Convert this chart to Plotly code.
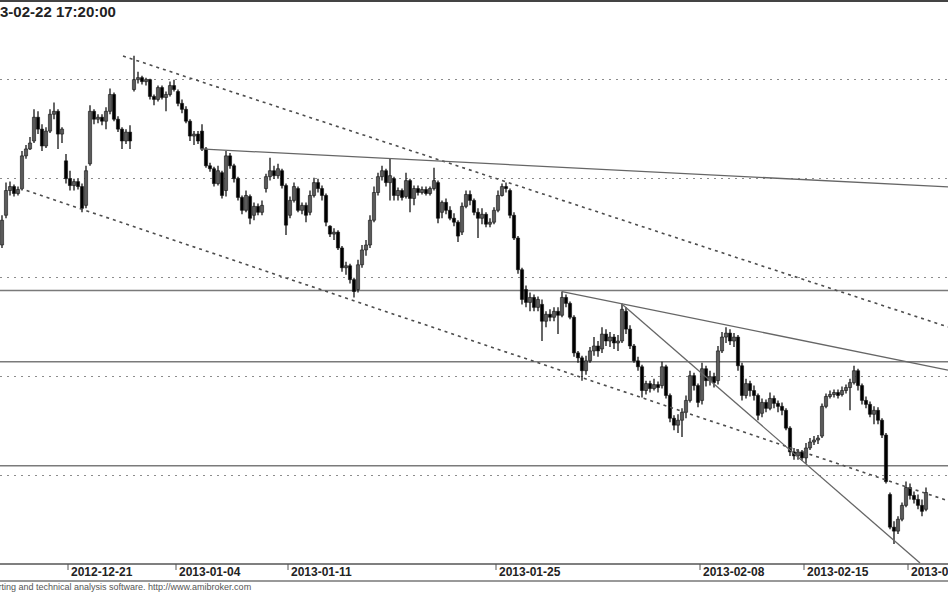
import plotly.graph_objects as go

# ---------------- data (bar index = intraday bar, values = index points) ----------------
open_ = [2566.5,2581.5,2594,2596,2592.5,2595,2611.5,2615,2619,2631,2625,2616.5,2624,2632.5,2634,2622.5,
         2609,2600,2596.5,2598.5,2596,2586.5,2607.5,2634,2630,2631,2629,2634,2642.5,2630,2625,2619,
         2623.5,2645,2650,2651,2649,2650,2641.5,2640,2646,2641,2642.5,2647,2644,2638,2635,2629,
         2621.5,2622.5,2624,2615,2606.5,2605,2597.5,2603,2594,2611.5,2606.5,2600,2590.5,2584,2591,2581.5,
         2586,2583,2595,2601,2604,2601.5,2604,2596.5,2581.5,2589,2595,2584,2586.5,2583,2591.5,2598,
         2595,2591.5,2576,2572,2573,2565,2555,2556,2549,2544,2556.5,2564,2566.5,2579,2593,2601,
         2604,2598,2600,2591.5,2594,2591,2599,2590,2595,2593,2594.5,2592.5,2595,2598,2583,2588,
         2584,2580,2578,2573,2586,2592,2589,2583,2580,2582,2577,2578,2584,2591.5,2596,2594,
         2581.5,2570,2554,2544,2537.5,2540,2535,2536.5,2528,2531.5,2530,2533,2531,2540,2537,2530,
         2512,2509.5,2503,2508,2513,2515.5,2514,2521.5,2518,2520,2517,2518,2533,2524,2515.5,2508,
         2505,2493,2496.5,2494,2496,2495.5,2505,2490.5,2479,2475.5,2478,2482,2488,2500.5,2495.5,2488,
         2504,2498,2500,2498,2513,2520,2522,2518,2520,2505.5,2490.5,2496.5,2493,2490.5,2481.5,2487,
         2484,2489,2486.5,2485,2483,2474,2462,2460,2462,2459,2464,2467,2468,2470,2485,2490,
         2491,2492,2491,2493,2494.5,2497,2503,2495.5,2488,2486,2481,2483,2478,2470.5,2440.5,2424,
         2422,2428,2435,2444,2440,2438,2435,2433]
high = [2581.5,2598,2598.5,2597,2596,2614,2617,2621,2635,2634,2627.5,2626,2635,2638.5,2635,2626,
        2612.5,2604,2600,2600,2597.5,2606.5,2637,2635,2632.5,2632.5,2636,2645.5,2643.5,2631.5,2626,2625,
        2627,2662,2654,2652,2651,2650.5,2642.5,2647,2647,2644,2649,2650,2645,2640,2636.5,2630,
        2624,2624,2627.5,2616,2608,2606,2606.5,2604,2614,2613,2607.5,2601,2591.5,2594,2592,2588,
        2587.5,2589,2602.5,2610.5,2606.5,2607.5,2605,2597.5,2591,2598,2596,2588,2588,2594,2600.5,2600,
        2596.5,2592.5,2576.5,2575,2574,2566,2558,2557,2550,2559,2566.5,2569,2581.5,2596,2603,2606.5,
        2605,2610,2601,2595.5,2595,2603,2600,2596.5,2596.5,2596,2596,2596,2605.5,2599,2589,2590,
        2586,2582.5,2579,2588,2594,2594,2590,2585,2585,2583,2580,2585.5,2594,2597.5,2598,2595,
        2583,2571,2555,2546,2542.5,2541.5,2540.5,2539,2533,2534,2535,2535,2543,2541.5,2538,2531,
        2513,2510.5,2510.5,2515,2520,2518,2525,2524,2522.5,2521.5,2521,2537,2535,2526,2516.5,2510,
        2506,2498,2498,2499,2497.5,2507.5,2506,2491.5,2480.5,2481,2484,2490.5,2503,2502,2496.5,2507,
        2505.5,2503,2502,2515.5,2522.5,2525,2524,2522,2521,2507,2499,2498,2495.5,2491.5,2489,2488.5,
        2492,2490.5,2488,2487,2484,2475,2464,2463.5,2463,2466.5,2469,2470,2470.5,2486.5,2491.5,2493,
        2493.5,2493.5,2495,2496,2499,2505.5,2504,2496.5,2490,2487.5,2485,2484.5,2479,2471.5,2441.5,2427,
        2429.5,2436.5,2447,2446,2442,2440.5,2438,2444]
low = [2565,2580,2591.5,2591,2591.5,2594,2610,2614.5,2618,2622.5,2614,2615.5,2623,2630,2615,2618,
       2597.5,2594,2594,2594.5,2583,2585,2606.5,2627.5,2628,2627,2625,2632.5,2629,2623.5,2615,2617.5,
       2615,2644,2648,2647.5,2647,2640,2637,2639,2640,2634,2641.5,2644,2636.5,2633,2628,2619,
       2617,2617.5,2614,2605.5,2603.5,2596,2596.5,2590,2591,2605,2598,2589,2582,2583,2577,2579,
       2581.5,2581.5,2593,2599,2600,2600,2595,2571.5,2580,2588,2583,2582,2578,2581.5,2590.5,2593,
       2589,2576,2570.5,2569,2564,2553,2551.5,2547,2540,2542.5,2555,2561,2565,2578,2591.5,2599,
       2596,2589,2589,2589,2589,2590,2583,2586.5,2591.5,2592,2591.5,2591.5,2594,2577.5,2580,2582,
       2579,2576,2568,2571.5,2585,2586.5,2581.5,2570,2577,2575.5,2575.5,2577,2583,2591,2593,2580,
       2569,2552,2536.5,2535,2533,2533,2533,2518,2525,2528,2528,2521.5,2530,2535,2529,2510,
       2507,2498,2501,2507,2510.5,2510,2512,2515.5,2515,2514,2513,2517,2521.5,2514,2507,2503,
       2489.5,2491,2492,2493,2492,2494,2489,2477,2473,2471.5,2469.5,2479,2487,2493,2484.5,2486,
       2495,2495.5,2494.5,2496,2512,2517,2516,2515,2503,2488,2489,2490,2488,2478,2479.5,2482,
       2483,2484,2482,2480.5,2473,2460,2458,2458,2457.5,2456,2463,2465.5,2466,2469,2484,2489,
       2489.5,2489,2490,2491.5,2483,2496,2493,2486,2484,2479.5,2476,2476,2469,2446,2423,2415.5,
       2420.5,2427,2434,2438,2436,2433,2429.5,2432]
close = [2579,2594,2596,2592.5,2594.5,2611.5,2615,2618,2631,2625,2616.5,2624,2632.5,2634,2622.5,2625,
         2600,2596.5,2598.5,2596,2585,2604,2634,2630,2631,2629,2634,2642.5,2630,2625,2619,2623.5,
         2619,2650,2651,2649,2650,2641.5,2640,2646,2641,2642.5,2647,2645,2638,2635,2629,2621.5,
         2622.5,2619,2615,2606.5,2605,2597.5,2604,2591.5,2611.5,2606.5,2600,2590.5,2584,2591.5,2580,2586,
         2583,2586.5,2601,2604,2601.5,2605,2596.5,2576.5,2589,2596,2584,2586.5,2581.5,2591.5,2598,2595,
         2591.5,2578,2572,2573,2565,2555,2556,2549,2543,2556.5,2564,2566.5,2579,2593,2601,2604,
         2598,2601.5,2591.5,2594,2590.5,2599,2590,2595,2593,2594.5,2592.5,2595,2599,2580,2588,2584,
         2580,2578,2571,2586,2592,2589,2583,2580,2582,2577,2578,2584,2591.5,2596,2595,2581.5,
         2570,2554,2539,2537.5,2540,2535,2539,2528,2531.5,2530,2533,2531,2540,2537,2530,2512,
         2509.5,2503,2508,2513,2515.5,2513,2521.5,2518,2520,2517,2518,2534,2524,2515.5,2508,2505,
         2493,2496.5,2494,2496,2494.5,2505,2490.5,2479,2475.5,2478,2482,2488,2500.5,2495.5,2487,2504,
         2498,2500,2497,2513,2520,2522,2518,2520,2505.5,2490.5,2496.5,2493,2490.5,2480.5,2487,2484,
         2489,2486.5,2485,2483,2474,2462,2460,2462,2459,2464,2467,2468,2469,2485,2490,2491,
         2492,2490.5,2493,2494.5,2497,2503,2495.5,2488,2486,2481,2483,2478,2470.5,2447,2424,2422,
         2428,2435,2444,2440,2438,2435,2432,2441.5]

bars = list(range(len(close)))

# support / resistance levels and trend lines (bar index, price)
levels = [2543.5, 2507.5, 2455.0]
dotted_trends = [((30.25, 2661.9), (236.5, 2525.1)),
                 ((4.5, 2595.1), (236.5, 2437.3))]
solid_trends = [((49.5, 2615.0), (236.5, 2595.8)),
                ((140.0, 2543.0), (236.5, 2503.3)),
                ((155.25, 2536.2), (229.5, 2405.9))]
grid_levels = [2650, 2600, 2550, 2500, 2450]

tick_bars = [17, 44, 72, 124, 175, 201, 227]
tick_labels = ["2012-12-21", "2013-01-04", "2013-01-11", "2013-01-25",
               "2013-02-08", "2013-02-15", "2013-02-22"]
title_text = "2013-02-22 17:20:00"
footer_text = "AmiBroker - charting and technical analysis software. http://www.amibroker.com"

# ---------------- figure ----------------
W, H = 948, 593
TOP, BOTTOM = 2, 29
plot_h = H - TOP - BOTTOM

body_base = [min(o, c) for o, c in zip(open_, close)]
body_len = [max(abs(c - o), 0.6) for o, c in zip(open_, close)]
body_col = ["#5a5a5a" if c >= o else "#000000" for o, c in zip(open_, close)]
wick_len = [h - l for h, l in zip(high, low)]

fig = go.Figure()
fig.add_trace(go.Bar(x=bars, y=wick_len, base=low, width=0.32,
                     marker=dict(color="#111111", line=dict(width=0)),
                     showlegend=False, hoverinfo="skip"))
fig.add_trace(go.Bar(x=bars, y=body_len, base=body_base, width=0.8,
                     marker=dict(color=body_col, line=dict(color="#111111", width=0.6)),
                     showlegend=False, hoverinfo="skip"))

shapes = []
for lv in levels:
    shapes.append(dict(type="line", xref="paper", x0=0, x1=1, yref="y", y0=lv, y1=lv,
                       line=dict(color="#7a7a7a", width=1.6), layer="below"))
for (a, b) in dotted_trends:
    shapes.append(dict(type="line", xref="x", yref="y", x0=a[0], y0=a[1], x1=b[0], y1=b[1],
                       line=dict(color="#4d4d4d", width=1.6, dash="3px,4px")))
for (a, b) in solid_trends:
    shapes.append(dict(type="line", xref="x", yref="y", x0=a[0], y0=a[1], x1=b[0], y1=b[1],
                       line=dict(color="#666666", width=1.3)))

# frame lines
shapes.append(dict(type="line", xref="paper", yref="paper", x0=0, x1=1, y0=0, y1=0,
                   line=dict(color="#555555", width=1.5)))
y581 = -(581 - (H - BOTTOM)) / plot_h
shapes.append(dict(type="line", xref="paper", yref="paper", x0=0, x1=1, y0=y581, y1=y581,
                   line=dict(color="#777777", width=1.5)))
ytop = 1 + 1.0 / plot_h
shapes.append(dict(type="line", xref="paper", yref="paper", x0=0, x1=1, y0=ytop, y1=ytop,
                   line=dict(color="#444444", width=2)))

annotations = []
ytick_lo = -6 / plot_h
ylab = -8 / plot_h
for tb, tl in zip(tick_bars, tick_labels):
    shapes.append(dict(type="line", xref="x", yref="paper", x0=tb - 0.5, x1=tb - 0.5,
                       y0=0, y1=ytick_lo, line=dict(color="#555555", width=1)))
    annotations.append(dict(x=tb - 0.5, xref="x", y=ylab, yref="paper", text="<b>" + tl + "</b>",
                            xanchor="left", yanchor="middle", xshift=1, showarrow=False,
                            font=dict(family="Liberation Sans, Arial", size=12, color="#222222")))

annotations.append(dict(x=118 / W, xref="paper", y=1 - 9 / plot_h, yref="paper",
                        text="<b>" + title_text + "</b>", xanchor="right", yanchor="middle",
                        showarrow=False,
                        font=dict(family="Liberation Sans, Arial", size=15, color="#222222")))
annotations.append(dict(x=253 / W, xref="paper", y=-(587 - (H - BOTTOM)) / plot_h, yref="paper",
                        text=footer_text, xanchor="right", yanchor="middle", showarrow=False,
                        font=dict(family="Liberation Sans, Arial", size=9, color="#555555")))

fig.update_layout(
    width=W, height=H,
    margin=dict(l=0, r=0, t=TOP, b=BOTTOM, pad=0),
    paper_bgcolor="white", plot_bgcolor="white",
    showlegend=False, barmode="overlay",
    shapes=shapes, annotations=annotations,
    xaxis=dict(range=[-0.5, len(close) + 4.5], showgrid=False, zeroline=False,
               showticklabels=False, ticks="", fixedrange=True),
    yaxis=dict(range=[2405.4, 2689.2], tickvals=grid_levels, showgrid=True,
               gridcolor="#8c8c8c", gridwidth=1, griddash="2px,5px",
               zeroline=False, showticklabels=False, ticks="", fixedrange=True),
)

fig.write_html("out.html",
               config={"displayModeBar": False, "staticPlot": True},
               post_script="document.body.style.margin='0';document.body.style.padding='0';"
                           "document.body.style.overflow='hidden';")
